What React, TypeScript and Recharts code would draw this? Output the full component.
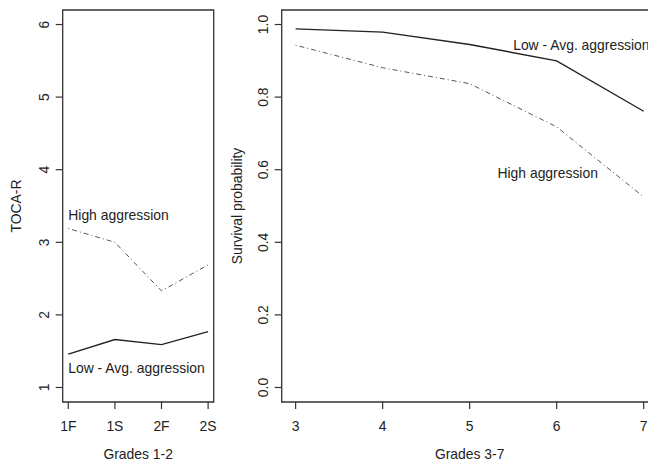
import { LineChart, Line, XAxis, YAxis, ReferenceArea, ReferenceDot } from 'recharts';

const gradesEarly = ['1F', '1S', '2F', '2S'];
const tocaLow = [1.46, 1.66, 1.59, 1.77];
const tocaHigh = [3.19, 3.0, 2.33, 2.69];
const tocaTicks = [1, 2, 3, 4, 5, 6];

const gradesLate = [3, 4, 5, 6, 7];
const survLow = [0.988, 0.979, 0.945, 0.9, 0.761];
const survHigh = [0.943, 0.881, 0.837, 0.718, 0.525];
const survTicks = [0, 0.2, 0.4, 0.6, 0.8, 1.0];

const leftNotes = [
  { text: 'High aggression', x: 1, y: 3.37 },
  { text: 'Low - Avg. aggression', x: 1, y: 1.27 },
];
const rightNotes = [
  { text: 'Low - Avg. aggression', x: 5.5, y: 0.943 },
  { text: 'High aggression', x: 5.32, y: 0.59 },
];

const FONT = '"Liberation Sans", Arial, Helvetica, sans-serif';
const INK = '#222';
const FS = 13.9;

// R-style axis range: data range padded by 4% each side
const pad = (lo: number, hi: number): [number, number] => {
  const d = (hi - lo) * 0.04;
  return [lo - d, hi + d];
};

const leftX = pad(1, gradesEarly.length);
const leftY = pad(1, 6);
const rightX = pad(gradesLate[0], gradesLate[gradesLate.length - 1]);
const rightY = pad(0, 1);

const leftData = gradesEarly.map((g, i) => ({ x: i + 1, grade: g, low: tocaLow[i], high: tocaHigh[i] }));
const rightData = gradesLate.map((g, i) => ({ x: g, low: survLow[i], high: survHigh[i] }));

const xTick = (fmt: (v: number) => string) => (props: any) => {
  const { x, y, payload } = props;
  return (
    <text x={x} y={y + 15} dy="0.35em" textAnchor="middle" fill={INK} fontSize={FS} fontFamily={FONT}>
      {fmt(payload.value)}
    </text>
  );
};

const yTick = (fmt: (v: number) => string) => (props: any) => {
  const { x, y, payload } = props;
  const cx = x - 9.5;
  return (
    <text x={cx} y={y} dy="0.35em" textAnchor="middle" transform={`rotate(-90, ${cx}, ${y})`} fill={INK} fontSize={FS} fontFamily={FONT}>
      {fmt(payload.value)}
    </text>
  );
};

const yTitle = (text: string, gap: number) => (props: any) => {
  const vb = props.viewBox || { x: 0, y: 10, width: 62, height: 392 };
  const cx = vb.x + vb.width - gap;
  const cy = vb.y + vb.height / 2;
  return (
    <text x={cx} y={cy} dy="0.35em" textAnchor="middle" transform={`rotate(-90, ${cx}, ${cy})`} fill={INK} fontSize={FS} fontFamily={FONT}>
      {text}
    </text>
  );
};

const xTitle = (text: string) => (props: any) => {
  const vb = props.viewBox || { x: 0, y: 402, width: 150, height: 61 };
  return (
    <text x={vb.x + vb.width / 2} y={vb.y + 52} dy="0.35em" textAnchor="middle" fill={INK} fontSize={FS} fontFamily={FONT}>
      {text}
    </text>
  );
};

const noteLabel = (text: string) => ({ value: text, position: 'right' as const, offset: 0, fill: INK, fontSize: FS, fontFamily: FONT });

export default function App() {
  return (
    <div style={{ position: 'absolute', left: 0, top: 0, width: 648, height: 463, overflow: 'hidden', background: '#fff' }}>
      <div style={{ position: 'absolute', left: 0, top: 0 }}>
        <LineChart width={230} height={463} data={leftData} margin={{ top: 10, right: 16.3, bottom: 0, left: 0 }}>
          <XAxis
            dataKey="x"
            type="number"
            domain={leftX}
            ticks={[1, 2, 3, 4]}
            allowDataOverflow
            height={61}
            axisLine={false}
            tickSize={7}
            tickLine={{ stroke: '#333', strokeWidth: 1.2 }}
            tick={xTick((v) => gradesEarly[v - 1])}
            label={xTitle('Grades 1-2')}
          />
          <YAxis
            type="number"
            domain={leftY}
            ticks={tocaTicks}
            allowDataOverflow
            width={62.7}
            axisLine={false}
            tickSize={7}
            tickLine={{ stroke: '#333', strokeWidth: 1.2 }}
            tick={yTick((v) => String(v))}
            label={yTitle('TOCA-R', 46.5)}
          />
          <ReferenceArea x1={leftX[0]} x2={leftX[1]} y1={leftY[0]} y2={leftY[1]} fill="none" stroke="#333" strokeWidth={1.3} />
          <Line dataKey="high" stroke="#555" strokeWidth={1} strokeDasharray="1 3 5 3" dot={false} activeDot={false} isAnimationActive={false} />
          <Line dataKey="low" stroke={INK} strokeWidth={1.4} dot={false} activeDot={false} isAnimationActive={false} />
          {leftNotes.map((n) => (
            <ReferenceDot key={n.text} x={n.x} y={n.y} r={0} fill="none" stroke="none" label={noteLabel(n.text)} />
          ))}
        </LineChart>
      </div>
      <div style={{ position: 'absolute', left: 220, top: 0 }}>
        <LineChart width={460} height={463} data={rightData} margin={{ top: 10, right: 22.4, bottom: 0, left: 0 }}>
          <XAxis
            dataKey="x"
            type="number"
            domain={rightX}
            ticks={gradesLate}
            allowDataOverflow
            height={61}
            axisLine={false}
            tickSize={7}
            tickLine={{ stroke: '#333', strokeWidth: 1.2 }}
            tick={xTick((v) => String(v))}
            label={xTitle('Grades 3-7')}
          />
          <YAxis
            type="number"
            domain={rightY}
            ticks={survTicks}
            allowDataOverflow
            width={61.7}
            axisLine={false}
            tickSize={7}
            tickLine={{ stroke: '#333', strokeWidth: 1.2 }}
            tick={yTick((v) => v.toFixed(1))}
            label={yTitle('Survival probability', 45)}
          />
          <ReferenceArea x1={rightX[0]} x2={rightX[1]} y1={rightY[0]} y2={rightY[1]} fill="none" stroke="#333" strokeWidth={1.3} />
          <Line dataKey="high" stroke="#555" strokeWidth={1} strokeDasharray="1 3 5 3" dot={false} activeDot={false} isAnimationActive={false} />
          <Line dataKey="low" stroke={INK} strokeWidth={1.4} dot={false} activeDot={false} isAnimationActive={false} />
          {rightNotes.map((n) => (
            <ReferenceDot key={n.text} x={n.x} y={n.y} r={0} fill="none" stroke="none" label={noteLabel(n.text)} />
          ))}
        </LineChart>
      </div>
    </div>
  );
}
